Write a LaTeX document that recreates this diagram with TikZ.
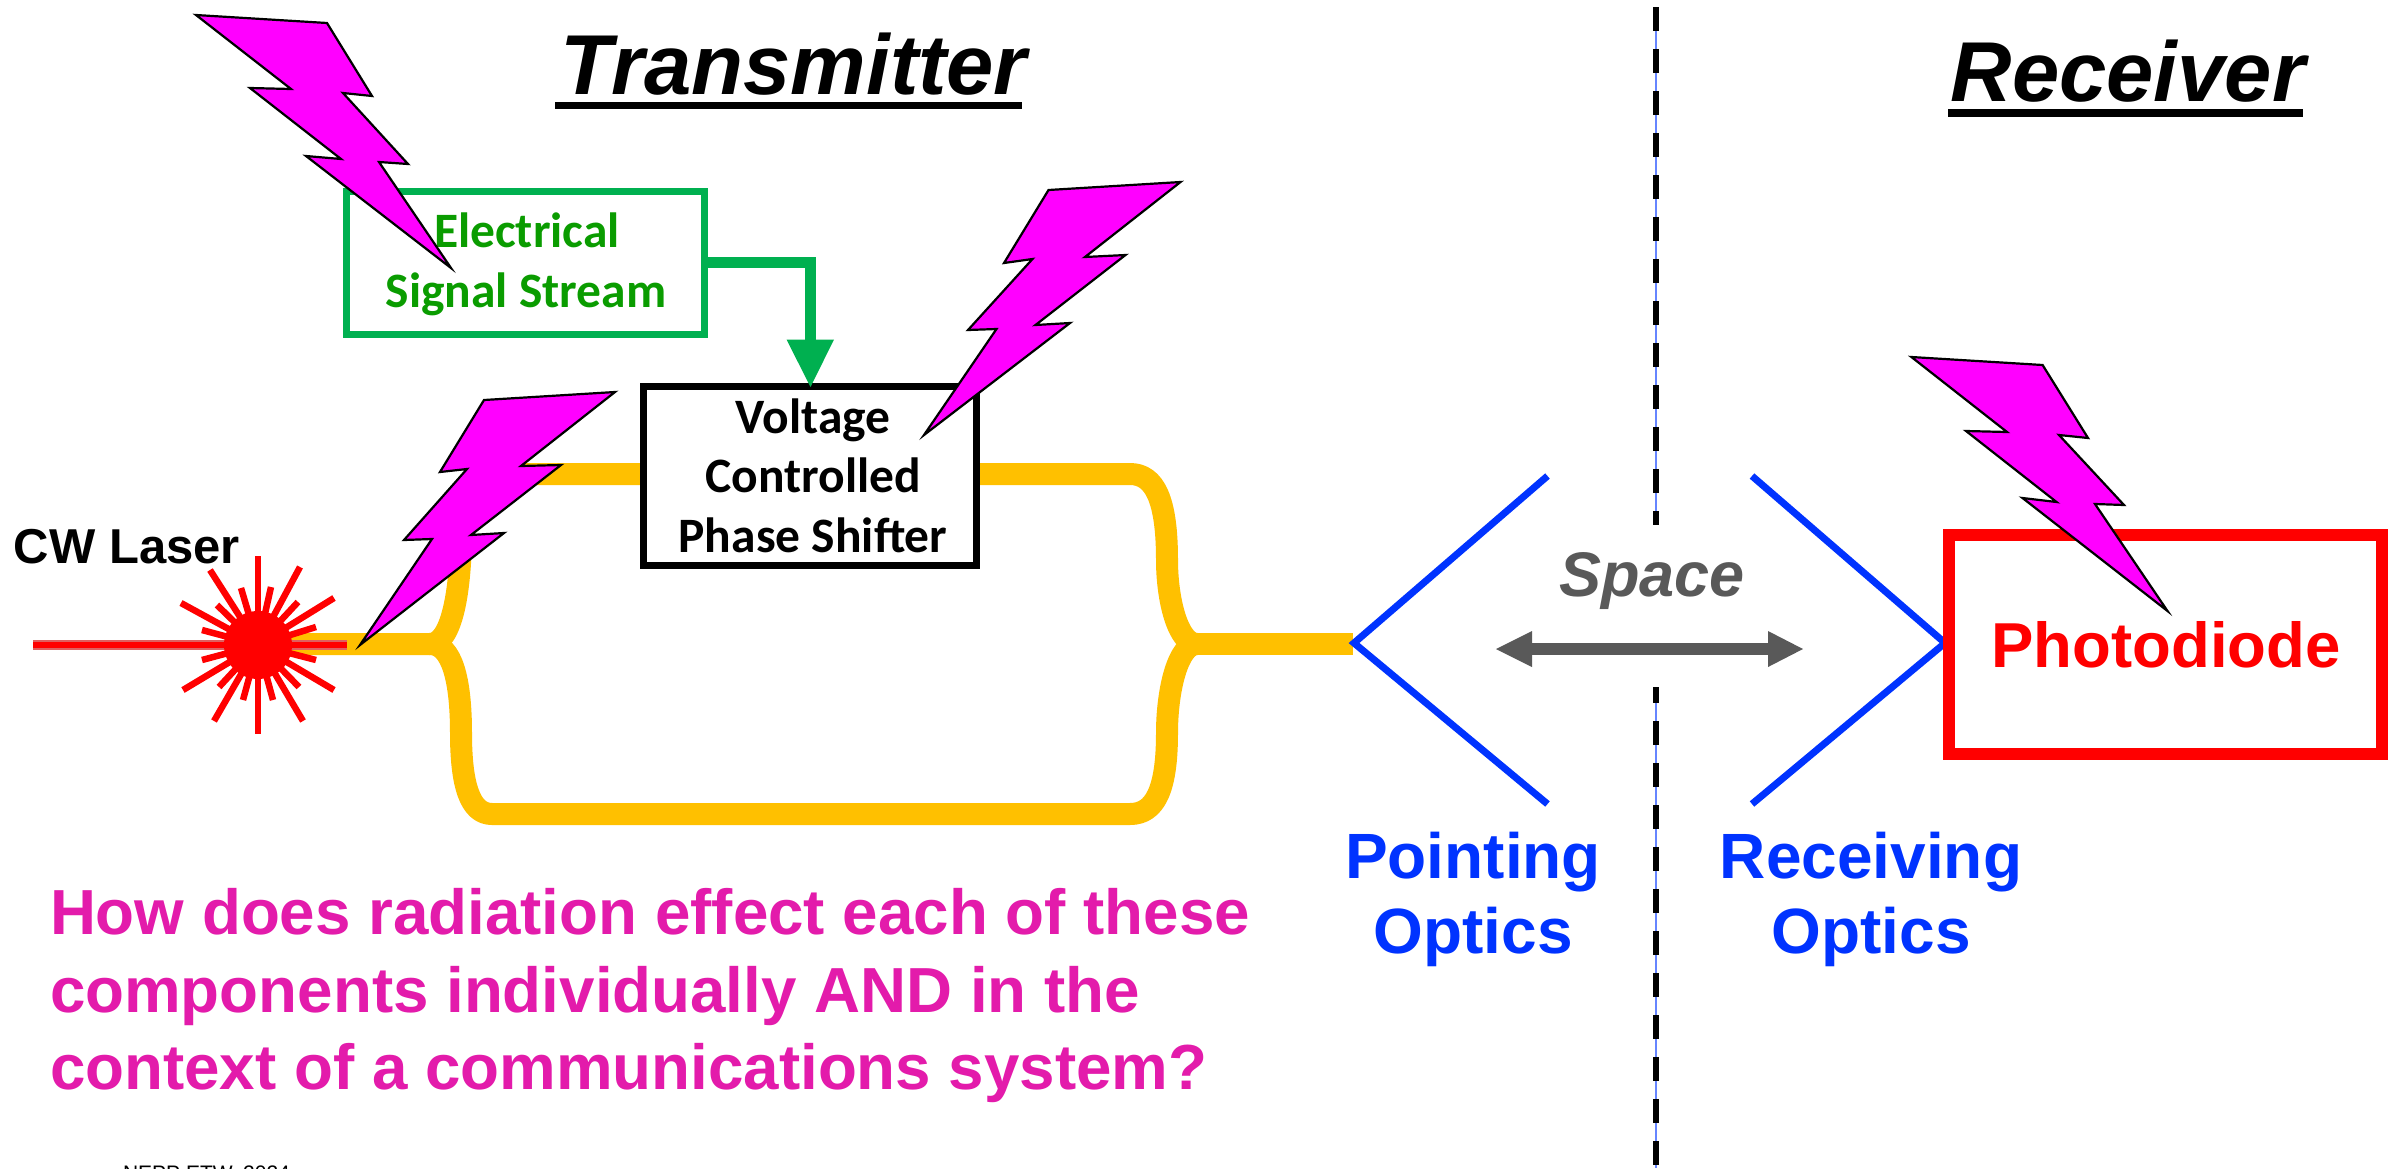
\documentclass[tikz,border=0pt]{standalone}
\usepackage{fontspec}
\setmainfont{Liberation Sans}
\newfontfamily\cali{Carlito}
\newcommand{\fsz}[1]{\fontsize{#1pt}{#1pt}\selectfont}
\definecolor{wg}{HTML}{FFC000}
\definecolor{sg}{HTML}{00B050}
\definecolor{tg}{HTML}{0A9C00}
\definecolor{bl}{HTML}{0033FF}
\definecolor{mg}{HTML}{FF00FF}
\definecolor{pk}{HTML}{E31BAB}
\definecolor{gy}{HTML}{595959}
\tikzset{
  x=1pt,y=-1pt,
  txt/.style={inner sep=0pt,outer sep=0pt,anchor=base},
  bolt/.style={draw=black,fill=mg,line width=2.2pt,line join=miter,miter limit=10},
  wguide/.style={draw=wg,line width=22pt,line join=round},
  optic/.style={draw=bl,line width=7pt,line join=miter},
  ray/.style={draw=red,line width=6.5pt},
  dashv/.style={draw=black,line width=6pt,dash pattern=on 24pt off 18pt},
  thinv/.style={draw=bl!60!white,line width=1.2pt},
}
\begin{document}
\begin{tikzpicture}
\useasboundingbox (0,0) rectangle (2394,1168);
\clip (0,0) rectangle (2394,1168);
\fill[white] (0,0) rectangle (2394,1168);
% divider
\coordinate (dt1) at (1656,7); \coordinate (dt2) at (1656,525);
\coordinate (db1) at (1656,687); \coordinate (db2) at (1656,1168);
\draw[thinv] (dt1) -- (dt2);
\draw[thinv] (db1) -- (db2);
\draw[dashv] (dt1) -- (dt2);
\draw[dashv,dash phase=8pt] (db1) -- (db2);
% waveguides
\coordinate (wgin) at (290,644);
\coordinate (wgout) at (1353,644);
\coordinate (wgj) at (1197,644);
\draw[wguide] (wgin) -- (430,644) .. controls (452,644) and (461,590) .. (461,530) .. controls (461,495) and (472,474) .. (500,474) -- (1130,474)
  .. controls (1155,474) and (1167,500) .. (1167,560) .. controls (1167,600) and (1178,644) .. (wgj);
\draw[wguide] (430,644) .. controls (452,644) and (461,680) .. (461,733) .. controls (461,785) and (470,814) .. (492,814) -- (1130,814)
  .. controls (1155,814) and (1167,790) .. (1167,733) .. controls (1167,690) and (1178,644) .. (wgj);
\draw[wguide] (wgj) -- (wgout);
% laser
\coordinate (lc) at (258,645);
\coordinate (lin) at (33,645);
\coordinate (lout) at (347,645);
\draw[draw=red!50!lightgray,line width=9.5pt] (lin) -- (lout);
\draw[draw=red,line width=5.5pt] (lin) -- (lout);
\foreach \dx/\dy in {0/-89,0/89,-48/-75,42/-78,-77/-42,76/-47,-75/45,76/45,-44/76,45/76,-17/-57,13/-58,-41/-40,40/-43,-56/-15,58/-18,-56/15,58/15,-39/42,41/42,-15/55,15/55}{
  \draw[ray] (lc) -- ++(\dx,\dy);
}
\fill[red] (lc) circle[radius=34];
\node[txt,font=\fsz{49}\bfseries] (cw) at (127,563) {CW Laser};
% electrical box
\node[draw=sg,line width=7pt,fill=white,minimum width=358pt,minimum height=143pt,inner sep=0pt,outer sep=0pt] (es) at (525.5,263) {};
\node[txt,font=\cali\fsz{49.5}\bfseries,text=tg] (e1) at (527,247) {Electrical};
\node[txt,font=\cali\fsz{49.5}\bfseries,text=tg] (e2) at (526,307) {Signal Stream};
% phase shifter box
\node[draw=black,line width=7pt,fill=white,minimum width=333pt,minimum height=179pt,inner sep=0pt,outer sep=0pt] (ps) at (810,476) {};
\node[txt,font=\cali\fsz{49.5}\bfseries] (p1) at (813,433) {Voltage};
\node[txt,font=\cali\fsz{49.5}\bfseries] (p2) at (813,492) {Controlled};
\node[txt,font=\cali\fsz{49.5}\bfseries] (p3) at (813,552) {Phase Shifter};
% signal arrow
\coordinate (sa) at (810.5,262.5);
\draw[draw=sg,line width=11pt] (es.east |- sa) -- (sa) -- (810.5,342);
\fill[sg] (786.5,339.5) -- (834,339.5) -- (810.5,387) -- cycle;
% optics
\coordinate (pa) at (1354,643); \coordinate (pu) at (1547.5,476); \coordinate (pd) at (1547.5,804);
\coordinate (ra) at (1945,643); \coordinate (ru) at (1752,476); \coordinate (rd) at (1752,804);
\draw[optic] (pu) -- (pa) -- (pd);
\draw[optic] (ru) -- (ra) -- (rd);
% space arrow
\coordinate (sl) at (1532,649); \coordinate (sr) at (1768,649);
\draw[draw=gy,line width=12pt] (sl) -- (sr);
\fill[gy] (1496,649) -- (1532,631) -- (1532,667) -- cycle;
\fill[gy] (1803,649) -- (1768,631) -- (1768,667) -- cycle;
\node[txt,font=\fsz{63}\bfseries\itshape,text=gy] (sp) at (1652,596) {Space};
% photodiode
\node[draw=red,line width=12pt,fill=white,minimum width=433pt,minimum height=219pt,inner sep=0pt,outer sep=0pt] (pdb) at (2165,644.5) {};
\node[txt,font=\fsz{63.5}\bfseries,text=red] (pt) at (2166,667) {Photodiode};
% bolts
\draw[bolt] (196,15)--(327,23)--(372,96)--(343,93)--(408,164)--(379,162)--(451,268)--(306,156)--(341,159)--(250,88)--(291,89)--cycle;
\draw[bolt] (615,392)--(484,400)--(440,472)--(467,469)--(404,540)--(432,539)--(360,645)--(504,533)--(471,535)--(561,465)--(521,466)--cycle;
\draw[bolt] (1180.5,182)--(1048.5,190)--(1004,263)--(1032.5,259)--(968,330)--(996.5,329)--(924,435)--(1070,323)--(1035.5,325)--(1125.5,255)--(1085,257)--cycle;
\draw[bolt] (1911.4,357)--(2042.6,365)--(2088,438)--(2059,435)--(2124,505)--(2095,504)--(2167.5,611)--(2022.5,498)--(2056.5,502)--(1966,431)--(2007,432)--cycle;
% titles
\node[txt,font=\fsz{85}\bfseries\itshape] (tx) at (794,94) {Transmitter};
\draw[line width=7pt] (555,105.5) -- (1022,105.5);
\node[txt,font=\fsz{85}\bfseries\itshape] (rx) at (2128,101) {Receiver};
\draw[line width=8pt] (1948,113) -- (2303,113);
% optics labels
\node[txt,font=\fsz{64}\bfseries,text=bl] (o1) at (1473,878) {Pointing};
\node[txt,font=\fsz{64}\bfseries,text=bl] (o2) at (1473,953) {Optics};
\node[txt,font=\fsz{64}\bfseries,text=bl] (o3) at (1871,878) {Receiving};
\node[txt,font=\fsz{64}\bfseries,text=bl] (o4) at (1871,953) {Optics};
% question
\node[txt,anchor=base west,font=\fsz{63.7}\bfseries,text=pk] (q1) at (50,934) {How does radiation effect each of these};
\node[txt,anchor=base west,font=\fsz{63.7}\bfseries,text=pk] (q2) at (50,1012) {components individually AND in the};
\node[txt,anchor=base west,font=\fsz{63.7}\bfseries,text=pk] (q3) at (50,1089) {context of a communications system?};
% source: only the legible part of the clipped line
\node[txt,anchor=base west,font=\fsz{21}] (src) at (123,1180) {NEPP ETW, 2024};
\end{tikzpicture}
\end{document}
